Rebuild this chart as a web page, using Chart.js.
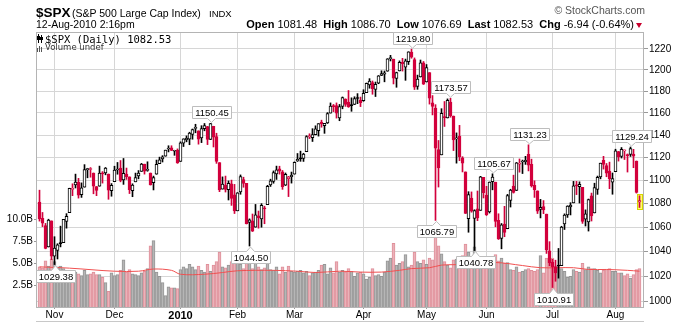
<!DOCTYPE html>
<html><head><meta charset="utf-8">
<script src="https://cdn.jsdelivr.net/npm/chart.js@4.4.1/dist/chart.umd.min.js"></script>
<style>
html,body{margin:0;padding:0;background:#fff;}
#wrap{position:relative;width:686px;height:323px;overflow:hidden;font-family:"Liberation Sans",Arial,sans-serif;}
#c{position:absolute;left:0;top:0;}
.t{position:absolute;white-space:nowrap;color:#000;line-height:1;}
</style></head><body>
<div id="wrap">
<canvas id="c" width="686" height="323"></canvas>
<div class="t" style="left:36px;top:6px;font-size:13.5px;font-weight:bold;">$SPX</div>
<div class="t" style="left:72px;top:8px;font-size:10.5px;">(S&amp;P 500 Large Cap Index)</div>
<div class="t" style="left:209px;top:9px;font-size:9.5px;">INDX</div>
<div class="t" style="left:36px;top:19px;font-size:10.5px;">12-Aug-2010 2:16pm</div>
<div class="t" style="right:52px;top:19px;font-size:11px;"><b>Open</b> 1081.48 &nbsp;<b>High</b> 1086.70 &nbsp;<b>Low</b> 1076.69 &nbsp;<b>Last</b> 1082.53 &nbsp;<b>Chg</b> -6.94 (-0.64%)</div>
<div style="position:absolute;left:636px;top:23px;width:0;height:0;border-left:3.5px solid transparent;border-right:3.5px solid transparent;border-top:5px solid #c8002d;"></div>
<div class="t" style="right:41px;top:5px;font-size:10.5px;color:#555;">© StockCharts.com</div>
<div class="t" style="left:45px;top:34px;font-size:10.5px;font-family:'DejaVu Sans Mono',monospace;">$SPX (Daily) 1082.53</div>
<div class="t" style="left:45px;top:43px;font-size:8.5px;font-family:'DejaVu Sans',sans-serif;color:#333;">Volume undef</div>
</div>
<script>
// ---- data ----
const dates = ['10/26','10/27','10/28','10/29','10/30',
'11/2','11/3','11/4','11/5','11/6','11/9','11/10','11/11','11/12','11/13','11/16','11/17','11/18','11/19','11/20','11/23','11/24','11/25','11/27','11/30',
'12/1','12/2','12/3','12/4','12/7','12/8','12/9','12/10','12/11','12/14','12/15','12/16','12/17','12/18','12/21','12/22','12/23','12/24','12/28','12/29','12/30','12/31',
'1/4','1/5','1/6','1/7','1/8','1/11','1/12','1/13','1/14','1/15','1/19','1/20','1/21','1/22','1/25','1/26','1/27','1/28','1/29',
'2/1','2/2','2/3','2/4','2/5','2/8','2/9','2/10','2/11','2/12','2/16','2/17','2/18','2/19','2/22','2/23','2/24','2/25','2/26',
'3/1','3/2','3/3','3/4','3/5','3/8','3/9','3/10','3/11','3/12','3/15','3/16','3/17','3/18','3/19','3/22','3/23','3/24','3/25','3/26','3/29','3/30','3/31',
'4/1','4/5','4/6','4/7','4/8','4/9','4/12','4/13','4/14','4/15','4/16','4/19','4/20','4/21','4/22','4/23','4/26','4/27','4/28','4/29','4/30',
'5/3','5/4','5/5','5/6','5/7','5/10','5/11','5/12','5/13','5/14','5/17','5/18','5/19','5/20','5/21','5/24','5/25','5/26','5/27','5/28',
'6/1','6/2','6/3','6/4','6/7','6/8','6/9','6/10','6/11','6/14','6/15','6/16','6/17','6/18','6/21','6/22','6/23','6/24','6/25','6/28','6/29','6/30',
'7/1','7/2','7/6','7/7','7/8','7/9','7/12','7/13','7/14','7/15','7/16','7/19','7/20','7/21','7/22','7/23','7/26','7/27','7/28','7/29','7/30',
'8/2','8/3','8/4','8/5','8/6','8/9','8/10','8/11','8/12'];

const open = [1081.3,1067.5,1061.5,1043.7,1065.4,
1036.2,1040.9,1047.1,1047.3,1064.9,1072.3,1092.2,1096.0,1098.3,1087.6,1094.1,1109.2,1109.4,1106.4,1094.7,1094.9,1105.8,1106.5,1105.5,1091.1,
1098.9,1109.0,1110.6,1100.4,1105.5,1103.0,1091.0,1098.7,1103.8,1107.8,1114.1,1108.6,1106.4,1097.9,1105.3,1114.5,1118.8,1121.1,1127.5,1128.6,1125.5,1126.6,
1116.6,1132.7,1135.7,1136.3,1140.5,1146.0,1143.8,1137.3,1145.7,1147.7,1136.0,1147.9,1138.7,1115.5,1092.4,1095.8,1091.9,1096.9,1087.6,
1073.9,1090.0,1100.7,1097.3,1064.1,1065.5,1060.1,1069.7,1067.1,1076.0,1079.1,1096.1,1099.0,1105.5,1110.0,1107.5,1095.9,1101.2,1103.1,
1105.4,1117.0,1119.4,1119.1,1125.1,1138.4,1137.6,1140.2,1144.0,1151.7,1148.5,1150.8,1159.9,1166.1,1166.7,1155.4,1166.0,1172.7,1170.0,1167.6,1167.7,1173.8,1171.8,
1171.2,1178.7,1186.0,1188.2,1181.8,1187.5,1194.9,1195.9,1198.7,1210.8,1210.2,1192.1,1199.0,1207.2,1202.5,1207.9,1217.1,1209.9,1184.6,1193.3,1206.8,
1188.6,1197.5,1169.2,1164.4,1127.0,1122.3,1156.4,1155.4,1170.0,1157.2,1136.5,1138.8,1119.6,1107.3,1067.3,1084.8,1067.4,1075.5,1074.3,1102.6,
1087.3,1073.0,1098.8,1098.4,1065.8,1050.8,1062.8,1058.8,1082.7,1095.0,1091.2,1114.0,1116.0,1116.2,1122.8,1113.9,1095.6,1090.9,1075.1,1077.5,1071.1,1040.6,
1031.1,1027.7,1028.1,1028.5,1062.9,1070.5,1077.2,1080.6,1095.6,1094.5,1093.9,1066.9,1064.5,1086.7,1072.1,1092.2,1102.9,1117.4,1112.8,1108.1,1098.4,
1107.5,1125.3,1121.0,1125.8,1122.1,1122.8,1122.9,1116.9,1081.48];

const high = [1091.5,1072.5,1063.3,1066.8,1065.4,
1052.2,1046.4,1061.0,1066.7,1071.5,1093.2,1097.0,1105.4,1101.7,1097.8,1113.7,1110.5,1111.1,1106.4,1094.7,1112.4,1107.6,1111.2,1105.5,1097.2,
1112.3,1115.6,1117.3,1119.1,1110.7,1103.0,1097.0,1106.3,1108.5,1114.8,1114.1,1116.2,1106.4,1103.7,1117.7,1120.3,1121.6,1126.5,1130.4,1130.4,1126.4,1127.6,
1133.9,1136.6,1139.2,1142.5,1145.4,1149.7,1143.8,1148.4,1150.4,1147.8,1150.45,1147.9,1141.6,1115.5,1103.0,1103.7,1099.5,1100.2,1096.5,
1089.4,1104.7,1102.7,1097.3,1067.1,1071.2,1079.3,1073.7,1080.0,1077.8,1095.7,1101.0,1108.2,1112.4,1112.3,1108.6,1106.4,1103.5,1107.2,
1116.1,1123.5,1125.6,1123.7,1139.4,1141.1,1145.7,1148.3,1150.2,1153.4,1150.0,1160.3,1169.2,1167.8,1169.2,1167.8,1174.7,1173.0,1180.7,1173.9,1174.9,1177.8,1174.6,
1181.4,1187.7,1191.8,1189.6,1188.6,1194.7,1199.2,1199.0,1210.7,1213.9,1210.2,1197.9,1208.6,1211.0,1210.3,1217.3,1219.80,1211.4,1195.1,1209.4,1208.0,
1205.1,1197.5,1176.0,1167.6,1135.1,1163.9,1170.5,1172.9,1173.57,1157.2,1141.9,1148.7,1120.7,1107.3,1090.2,1090.0,1074.8,1090.8,1103.5,1102.6,
1094.8,1098.6,1105.67,1098.4,1071.4,1063.2,1077.7,1087.9,1092.3,1104.5,1115.6,1118.7,1117.7,1121.0,1131.23,1118.5,1099.6,1090.9,1083.6,1082.6,1071.1,1048.1,
1033.6,1032.9,1042.5,1060.9,1071.3,1078.2,1080.8,1099.1,1099.1,1098.7,1093.9,1074.7,1083.9,1089.0,1097.5,1103.7,1115.0,1121.0,1114.7,1115.9,1106.4,
1127.3,1125.4,1128.8,1126.6,1123.1,1129.24,1127.2,1116.9,1086.70];

const low = [1065.2,1060.6,1042.2,1043.7,1033.4,
1029.38,1033.9,1043.8,1047.3,1059.3,1072.3,1086.8,1093.4,1084.7,1085.3,1094.1,1102.2,1102.7,1088.4,1086.8,1094.9,1097.6,1104.8,1083.7,1086.3,
1098.9,1105.3,1098.7,1096.5,1100.8,1088.6,1085.9,1098.7,1101.3,1107.8,1105.4,1107.9,1095.9,1091.7,1105.3,1114.5,1116.0,1121.1,1124.9,1126.1,1121.9,1114.8,
1116.6,1129.7,1133.9,1131.3,1136.2,1142.0,1131.8,1133.2,1143.8,1131.4,1135.8,1129.3,1114.8,1090.2,1092.4,1089.9,1083.1,1078.5,1071.6,
1073.9,1088.0,1094.0,1062.8,1044.50,1056.5,1060.1,1059.3,1060.1,1063.0,1079.1,1094.7,1097.5,1100.8,1105.4,1092.2,1095.5,1086.0,1097.6,
1105.4,1116.5,1116.6,1116.5,1125.1,1136.8,1134.2,1140.1,1139.0,1147.0,1141.5,1150.4,1159.9,1161.2,1155.3,1152.9,1163.8,1166.0,1165.1,1161.5,1167.7,1168.5,1165.8,
1170.7,1178.7,1182.8,1177.2,1175.1,1187.0,1194.7,1188.8,1198.7,1208.5,1186.8,1183.7,1199.0,1198.9,1190.2,1205.1,1211.1,1181.6,1181.8,1193.3,1186.3,
1188.6,1168.1,1158.2,1065.79,1094.2,1122.3,1147.7,1155.4,1156.1,1126.1,1115.0,1117.2,1107.3,1071.6,1055.9,1072.7,1040.78,1065.6,1074.3,1084.8,
1069.9,1072.0,1091.8,1060.5,1049.9,1042.2,1052.2,1058.8,1077.1,1089.0,1091.2,1107.1,1105.9,1113.9,1108.2,1094.2,1085.3,1071.6,1067.9,1071.5,1038.4,1028.3,
1010.91,1015.9,1018.4,1028.5,1058.2,1068.3,1070.4,1080.6,1087.7,1080.5,1063.3,1061.1,1056.9,1065.3,1072.1,1087.9,1101.3,1109.8,1103.1,1092.8,1088.0,
1107.5,1116.8,1119.5,1118.2,1107.2,1120.9,1111.0,1089.0,1076.69];

const close = [1066.95,1063.41,1042.63,1066.11,1036.19,
1042.88,1045.41,1046.50,1066.63,1069.30,1093.08,1093.01,1098.51,1087.24,1093.48,1109.30,1110.32,1109.80,1094.90,1091.38,1106.24,1105.65,1110.63,1091.49,1095.63,
1108.86,1109.24,1099.92,1105.98,1103.25,1091.94,1095.95,1102.35,1106.41,1114.11,1107.93,1109.18,1096.08,1102.47,1114.05,1118.02,1120.59,1126.48,1127.78,1126.20,1126.42,1115.10,
1132.99,1136.52,1137.14,1141.69,1144.98,1146.98,1136.22,1145.68,1148.46,1136.03,1150.23,1138.04,1116.48,1091.76,1096.78,1092.17,1097.50,1084.53,1073.87,
1089.19,1103.32,1097.28,1063.11,1066.19,1056.74,1070.52,1068.13,1078.47,1075.51,1094.87,1099.51,1106.75,1109.17,1108.01,1094.60,1105.24,1102.94,1104.49,
1115.71,1118.31,1118.79,1122.97,1138.70,1138.50,1140.45,1145.61,1150.24,1149.99,1150.51,1159.46,1166.21,1165.83,1159.90,1165.81,1174.17,1167.72,1165.73,1166.59,1173.22,1173.27,1169.43,
1178.10,1187.44,1189.44,1182.45,1186.44,1194.37,1196.48,1197.30,1210.65,1211.67,1192.13,1197.52,1207.17,1205.94,1208.67,1217.28,1212.05,1183.71,1191.36,1206.78,1186.69,
1202.26,1173.60,1165.87,1128.15,1110.88,1159.73,1155.79,1171.67,1157.44,1135.68,1136.94,1120.80,1115.05,1071.59,1087.69,1073.65,1074.03,1067.95,1103.06,1089.41,
1070.71,1098.38,1102.83,1064.88,1050.47,1062.00,1055.69,1086.84,1091.60,1089.63,1115.23,1114.61,1116.04,1117.51,1113.20,1095.31,1092.04,1073.69,1076.76,1074.57,1041.24,1030.71,
1027.37,1022.58,1028.06,1060.27,1070.25,1077.96,1078.75,1095.34,1095.17,1096.48,1064.88,1071.25,1083.48,1069.59,1093.67,1102.66,1115.01,1113.84,1106.13,1101.53,1101.60,
1125.86,1120.46,1127.24,1125.81,1121.64,1127.79,1121.06,1089.47,1082.53];

const prevClose0 = 1079.60; // close before the first bar

// volume in billions
const volume = [4.6,4.5,5.3,4.7,5.5,
5.2,4.6,4.7,4.4,4.2,4.1,4.2,4.0,3.8,3.6,4.2,3.7,3.8,4.0,3.7,3.7,3.4,2.8,1.8,3.9,
3.6,3.7,4.2,5.4,4.0,4.3,3.8,3.7,3.6,3.9,4.1,4.4,7.0,7.6,4.0,3.5,2.8,1.3,2.3,2.2,2.2,2.1,
4.3,4.6,4.4,4.9,4.6,4.3,4.7,4.2,4.0,4.9,4.1,4.8,5.2,6.3,4.6,4.5,4.8,5.2,5.5,
5.4,4.9,4.4,6.1,5.9,4.4,5.0,4.6,4.3,4.5,5.0,4.3,4.2,4.6,3.8,4.6,4.0,4.7,4.1,
4.0,4.1,4.2,3.9,4.1,3.6,3.9,4.0,4.2,4.8,4.9,3.8,4.5,3.9,5.2,4.0,4.2,4.0,4.4,4.1,3.5,3.9,4.0,
3.8,3.2,3.4,4.4,3.6,3.7,3.5,4.0,5.3,5.6,7.3,4.8,5.0,5.2,6.0,4.6,4.8,6.3,5.2,5.0,5.4,
4.9,5.6,5.4,8.0,7.0,6.1,5.2,4.8,4.5,5.4,5.5,5.6,5.9,7.2,6.3,5.0,6.9,5.5,5.2,4.5,
5.1,5.0,4.9,6.0,5.3,5.6,5.0,5.1,4.3,4.2,4.6,4.0,4.1,4.3,4.4,4.2,4.1,4.3,5.9,3.9,5.6,5.5,
5.6,4.3,4.6,4.4,4.1,3.4,3.5,4.3,4.1,4.0,5.0,4.3,4.6,4.4,4.4,4.2,3.9,4.2,4.3,4.4,4.1,
4.1,3.9,3.9,3.6,3.8,3.3,3.7,4.3,4.4];

// volume moving average, read at sample bars
const maIdx = [0,10,25,33,38,44,47,55,61,66,78,86,92,100,107,114,120,124,130,134,139,145,152,161,167,178,183,189,196,200];
const maVal = [4.6,4.45,4.1,4.1,4.35,4.2,3.75,3.75,3.95,4.15,4.2,4.1,3.95,4.1,4.0,4.0,4.2,4.4,4.5,4.8,4.85,4.9,5.1,4.75,4.5,4.5,4.3,4.3,4.2,4.1];

const monthTickIdx = [5,25,47,66,85,108,129,149,171,192];
const monthTickLabels = ['Nov','Dec','2010','Feb','Mar','Apr','May','Jun','Jul','Aug'];
const priceTicks = [1000,1020,1040,1060,1080,1100,1120,1140,1160,1180,1200,1220];
const volTicks = [2.5,5,7.5,10];
const volTickLabels = ['2.5B','5.0B','7.5B','10.0B'];

const annotIdx = [5,57,70,124,132,137,145,151,163,171,197];
const annotSide = ['low','high','low','high','low','high','low','high','high','low','high'];

// ---- styling ----
const RED = '#d2003c';
const GRID = '#d6d6d6';
const FONT = '"Liberation Sans", Arial, sans-serif';
const isUp = close.map((c,i)=> c >= (i>0 ? close[i-1] : prevClose0));
const col = isUp.map(u => u ? '#000000' : RED);
const bodyFill = close.map((c,i)=> c >= open[i] ? '#ffffff' : col[i]);
const volFill = isUp.map(u => u ? '#b6b6b6' : '#eab2b9');
const volEdge = isUp.map(u => u ? '#959595' : '#e08f9a');

const framePlugin = {
  id:'frame',
  beforeDatasetsDraw(chart){
    const {ctx, chartArea:a} = chart;
    const xs = chart.scales.x, ys = chart.scales.y;
    ctx.save();
    ctx.strokeStyle = '#b4b4b4'; ctx.lineWidth = 1;
    ctx.strokeRect(a.left+0.5, a.top+0.5, a.right-a.left-1, a.bottom-a.top);
    const li = close.length-1;
    const x = Math.round(xs.getPixelForValue(li));
    const y1 = Math.round(ys.getPixelForValue(high[li]))-2, y2 = Math.round(ys.getPixelForValue(low[li]))+2;
    ctx.fillStyle = '#ffff6e'; ctx.fillRect(x-3, y1, 6, y2-y1);
    ctx.strokeStyle = '#d6d600'; ctx.strokeRect(x-2.5, y1+0.5, 5, y2-y1-1);
    ctx.restore();
  },
  afterDatasetsDraw(chart){
    const {ctx} = chart;
    const xs = chart.scales.x, ys = chart.scales.y;
    ctx.save();
    ctx.font = '9.5px ' + FONT;
    annotIdx.forEach((i,k)=>{
      const side = annotSide[k];
      const v = side === 'high' ? high[i] : low[i];
      const t = v.toFixed(2);
      const px = Math.round(xs.getPixelForValue(i)) + 0.5;
      const py = ys.getPixelForValue(v);
      const tw = ctx.measureText(t).width;
      const bw = Math.round(tw + 5), bh = 12;
      const bx = Math.round(px - bw/2) + 0.5;
      let top, bottom, tip;
      if (side === 'high'){ bottom = Math.round(py - 5) + 0.5; top = bottom - bh; tip = py - 1; }
      else { top = Math.round(py + 5) + 0.5; bottom = top + bh; tip = py + 1; }
      ctx.beginPath();
      if (side === 'high'){
        ctx.moveTo(bx, top); ctx.lineTo(bx+bw, top); ctx.lineTo(bx+bw, bottom);
        ctx.lineTo(px+4, bottom); ctx.lineTo(px, tip); ctx.lineTo(px-4, bottom); ctx.lineTo(bx, bottom);
      } else {
        ctx.moveTo(bx, top); ctx.lineTo(px-4, top); ctx.lineTo(px, tip); ctx.lineTo(px+4, top);
        ctx.lineTo(bx+bw, top); ctx.lineTo(bx+bw, bottom); ctx.lineTo(bx, bottom);
      }
      ctx.closePath();
      ctx.fillStyle = '#ffffff'; ctx.fill();
      ctx.strokeStyle = '#bdbdbd'; ctx.lineWidth = 1; ctx.stroke();
      ctx.fillStyle = '#000'; ctx.textAlign = 'center'; ctx.textBaseline = 'middle';
      ctx.fillText(t, bx + bw/2, top + bh/2 + 0.5);
    });
    ctx.restore();
  },
  afterDraw(chart){
    const {ctx, chartArea:a} = chart;
    ctx.save();
    ctx.strokeStyle = '#c8c8c8'; ctx.lineWidth = 1;
    ctx.beginPath(); ctx.moveTo(a.left, 321.5); ctx.lineTo(a.right, 321.5); ctx.stroke();
    // legend icons
    ctx.fillStyle = '#000';
    ctx.fillRect(38,34,1,9); ctx.fillRect(37,36,3,4);
    ctx.fillRect(41,35,1,8); ctx.fillRect(40,37,3,3);
    ctx.fillStyle = '#555';
    ctx.fillRect(37,48,1,4); ctx.fillRect(39,46,1,6); ctx.fillRect(41,47,1,5);
    ctx.restore();
  }
};

new Chart(document.getElementById('c'), {
  type:'bar',
  data:{
    datasets:[
      { type:'line', data: maIdx.map((x,k)=>({x, y:maVal[k]})), yAxisID:'yv', xAxisID:'x',
        borderColor:'rgba(240,80,80,1)', borderWidth:1, pointRadius:0, tension:0.35, order:3 },
      { data: volume.map((v,i)=>({x:i, y:v})), yAxisID:'yv', xAxisID:'x',
        backgroundColor: volFill, borderColor: volEdge, borderWidth:1, barThickness:3, grouped:false, order:4 },
      { data: low.map((l,i)=>({x:i, y:[l, high[i]]})), yAxisID:'y', xAxisID:'x',
        backgroundColor: col, borderWidth:0, barThickness:1, grouped:false, order:2 },
      { data: open.map((o,i)=>({x:i, y:[Math.min(o,close[i]), Math.max(o,close[i])]})), yAxisID:'y', xAxisID:'x',
        backgroundColor: bodyFill, borderColor: col, borderWidth:1, borderSkipped:false, barThickness:3,
        minBarLength:1, grouped:false, order:1 }
    ]
  },
  options:{
    responsive:false, animation:false, devicePixelRatio:1,
    layout:{padding:{top:32,left:0,right:0,bottom:0}},
    plugins:{legend:{display:false}, tooltip:{enabled:false}},
    scales:{
      x:{ type:'linear', min:-7/6, max:201.5, offset:false,
        afterBuildTicks(s){ s.ticks = monthTickIdx.map(v=>({value:v})); },
        afterFit(s){ s.height = 16; },
        ticks:{ autoSkip:false, maxRotation:0, padding:0, color:'#000',
          callback:(v)=>{ const k = monthTickIdx.indexOf(v); return k>=0 ? monthTickLabels[k] : ''; },
          font:(ctx)=> (ctx.tick && ctx.tick.value===47) ? {family:FONT, size:11, weight:'bold'} : {family:FONT, size:10} },
        grid:{ color:GRID, offset:false, tickLength:2, tickColor:'#999' },
        border:{display:false}
      },
      y:{ type:'logarithmic', position:'right', min:995.5, max:1236.4,
        afterBuildTicks(s){ s.ticks = priceTicks.map(v=>({value:v})); },
        afterFit(s){ s.width = 42; },
        ticks:{ callback:(v)=>String(v), color:'#000', padding:1, font:{family:FONT, size:10} },
        grid:{ color:GRID, tickLength:4, tickColor:'#999' },
        border:{display:false}
      },
      yv:{ type:'linear', position:'left', min:0, max:31.5,
        afterBuildTicks(s){ s.ticks = volTicks.map(v=>({value:v})); },
        afterFit(s){ s.width = 36; },
        ticks:{ callback:(v)=>{ const k = volTicks.indexOf(v); return k>=0 ? volTickLabels[k] : ''; },
          color:'#000', padding:1, font:{family:FONT, size:10} },
        grid:{ drawOnChartArea:false, tickLength:2, tickColor:'#999' },
        border:{display:false}
      }
    }
  },
  plugins:[framePlugin]
});
</script>
</body></html>
